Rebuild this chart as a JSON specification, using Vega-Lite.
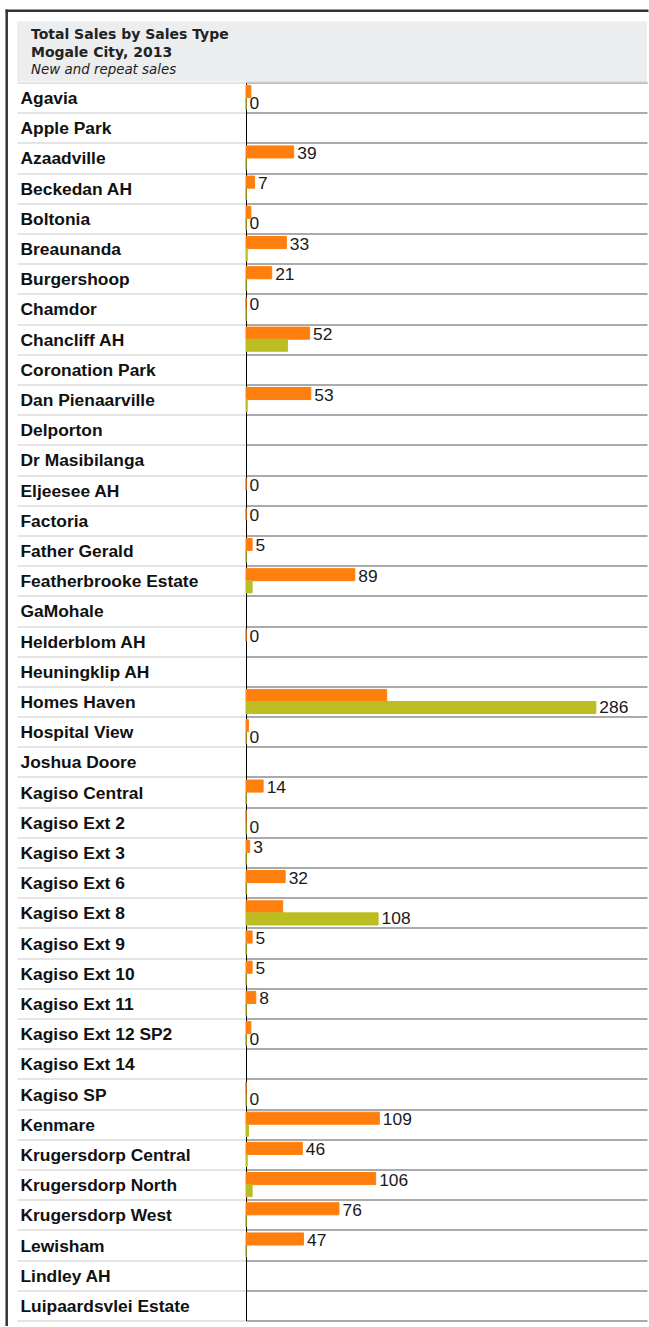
{
  "$schema": "https://vega.github.io/schema/vega-lite/v6.json",
  "padding": {"left": 2, "top": 5.5, "right": 0, "bottom": 0},
  "background": "white",
  "spacing": 1,
  "bounds": "flush",
  "config": {"view": {"stroke": null}},
  "vconcat": [
    {
      "width": 630,
      "height": 60,
      "view": {"fill": "#ECEDEF", "stroke": null},
      "title": {
        "text": ["Total Sales by Sales Type", "Mogale City, 2013"],
        "subtitle": "New and repeat sales",
        "anchor": "start",
        "frame": "group",
        "orient": "top",
        "offset": -70,
        "dx": 14,
        "font": "DejaVu Sans",
        "fontSize": 14,
        "fontWeight": "bold",
        "color": "#222222",
        "lineHeight": 18,
        "subtitleFont": "DejaVu Sans",
        "subtitleFontSize": 13.4,
        "subtitleFontStyle": "italic",
        "subtitleColor": "#222222",
        "subtitleLineHeight": 18,
        "subtitlePadding": 3
      },
      "data": {"values": [{}]},
      "mark": {"type": "point", "opacity": 0},
      "encoding": {
        "x": {"datum": 0, "type": "quantitative", "scale": {"domain": [0, 1], "range": [-12, 631], "nice": false},
              "axis": {"orient": "top", "offset": 11.3, "domain": true, "domainColor": "#333333", "domainWidth": 2.5, "ticks": false, "labels": false, "grid": false, "title": null}},
        "y": {"datum": 0, "type": "quantitative", "scale": {"domain": [0, 1], "range": [-12.5, 1304], "nice": false},
              "axis": {"orient": "left", "offset": 10.8, "domain": true, "domainColor": "#333333", "domainWidth": 2.5, "ticks": false, "labels": false, "grid": false, "title": null}}
      }
    },
    {
      "width": 630,
      "height": 1238,
      "data": {
        "values": [
          {"loc": "Agavia", "type": "New", "value": 4},
          {"loc": "Agavia", "type": "Repeat", "value": 0, "label": 0},
          {"loc": "Azaadville", "type": "New", "value": 39, "label": 39},
          {"loc": "Azaadville", "type": "Repeat", "value": 0},
          {"loc": "Beckedan AH", "type": "New", "value": 7, "label": 7},
          {"loc": "Beckedan AH", "type": "Repeat", "value": 0},
          {"loc": "Boltonia", "type": "New", "value": 4},
          {"loc": "Boltonia", "type": "Repeat", "value": 0, "label": 0},
          {"loc": "Breaunanda", "type": "New", "value": 33, "label": 33},
          {"loc": "Breaunanda", "type": "Repeat", "value": 1},
          {"loc": "Burgershoop", "type": "New", "value": 21, "label": 21},
          {"loc": "Burgershoop", "type": "Repeat", "value": 0},
          {"loc": "Chamdor", "type": "New", "value": 0, "label": 0},
          {"loc": "Chamdor", "type": "Repeat", "value": 0},
          {"loc": "Chancliff AH", "type": "New", "value": 52, "label": 52},
          {"loc": "Chancliff AH", "type": "Repeat", "value": 34},
          {"loc": "Dan Pienaarville", "type": "New", "value": 53, "label": 53},
          {"loc": "Dan Pienaarville", "type": "Repeat", "value": 1},
          {"loc": "Eljeesee AH", "type": "New", "value": 0, "label": 0},
          {"loc": "Factoria", "type": "New", "value": 0, "label": 0},
          {"loc": "Father Gerald", "type": "New", "value": 5, "label": 5},
          {"loc": "Father Gerald", "type": "Repeat", "value": 0},
          {"loc": "Featherbrooke Estate", "type": "New", "value": 89, "label": 89},
          {"loc": "Featherbrooke Estate", "type": "Repeat", "value": 5},
          {"loc": "Helderblom AH", "type": "New", "value": 0, "label": 0},
          {"loc": "Homes Haven", "type": "New", "value": 115},
          {"loc": "Homes Haven", "type": "Repeat", "value": 286, "label": 286},
          {"loc": "Hospital View", "type": "New", "value": 2},
          {"loc": "Hospital View", "type": "Repeat", "value": 0, "label": 0},
          {"loc": "Kagiso Central", "type": "New", "value": 14, "label": 14},
          {"loc": "Kagiso Central", "type": "Repeat", "value": 0},
          {"loc": "Kagiso Ext 2", "type": "New", "value": 0},
          {"loc": "Kagiso Ext 2", "type": "Repeat", "value": 0, "label": 0},
          {"loc": "Kagiso Ext 3", "type": "New", "value": 3, "label": 3},
          {"loc": "Kagiso Ext 3", "type": "Repeat", "value": 0},
          {"loc": "Kagiso Ext 6", "type": "New", "value": 32, "label": 32},
          {"loc": "Kagiso Ext 6", "type": "Repeat", "value": 0},
          {"loc": "Kagiso Ext 8", "type": "New", "value": 30},
          {"loc": "Kagiso Ext 8", "type": "Repeat", "value": 108, "label": 108},
          {"loc": "Kagiso Ext 9", "type": "New", "value": 5, "label": 5},
          {"loc": "Kagiso Ext 9", "type": "Repeat", "value": 0},
          {"loc": "Kagiso Ext 10", "type": "New", "value": 5, "label": 5},
          {"loc": "Kagiso Ext 10", "type": "Repeat", "value": 0},
          {"loc": "Kagiso Ext 11", "type": "New", "value": 8, "label": 8},
          {"loc": "Kagiso Ext 11", "type": "Repeat", "value": 0},
          {"loc": "Kagiso Ext 12 SP2", "type": "New", "value": 4},
          {"loc": "Kagiso Ext 12 SP2", "type": "Repeat", "value": 0, "label": 0},
          {"loc": "Kagiso SP", "type": "New", "value": 0},
          {"loc": "Kagiso SP", "type": "Repeat", "value": 0, "label": 0},
          {"loc": "Kenmare", "type": "New", "value": 109, "label": 109},
          {"loc": "Kenmare", "type": "Repeat", "value": 2},
          {"loc": "Krugersdorp Central", "type": "New", "value": 46, "label": 46},
          {"loc": "Krugersdorp Central", "type": "Repeat", "value": 1},
          {"loc": "Krugersdorp North", "type": "New", "value": 106, "label": 106},
          {"loc": "Krugersdorp North", "type": "Repeat", "value": 5},
          {"loc": "Krugersdorp West", "type": "New", "value": 76, "label": 76},
          {"loc": "Krugersdorp West", "type": "Repeat", "value": 0},
          {"loc": "Lewisham", "type": "New", "value": 47, "label": 47},
          {"loc": "Lewisham", "type": "Repeat", "value": 0}
        ]
      },
      "encoding": {
        "y": {
          "field": "loc",
          "type": "nominal",
          "title": null,
          "scale": {
            "domain": ["Agavia", "Apple Park", "Azaadville", "Beckedan AH", "Boltonia", "Breaunanda", "Burgershoop", "Chamdor", "Chancliff AH", "Coronation Park", "Dan Pienaarville", "Delporton", "Dr Masibilanga", "Eljeesee AH", "Factoria", "Father Gerald", "Featherbrooke Estate", "GaMohale", "Helderblom AH", "Heuningklip AH", "Homes Haven", "Hospital View", "Joshua Doore", "Kagiso Central", "Kagiso Ext 2", "Kagiso Ext 3", "Kagiso Ext 6", "Kagiso Ext 8", "Kagiso Ext 9", "Kagiso Ext 10", "Kagiso Ext 11", "Kagiso Ext 12 SP2", "Kagiso Ext 14", "Kagiso SP", "Kenmare", "Krugersdorp Central", "Krugersdorp North", "Krugersdorp West", "Lewisham", "Lindley AH", "Luipaardsvlei Estate"],
            "paddingInner": 0,
            "paddingOuter": 0
          },
          "axis": {
            "orient": "left",
            "offset": -229,
            "domain": true,
            "domainColor": "#000000",
            "domainWidth": 1,
            "ticks": true,
            "tickSize": 229,
            "tickBand": "extent",
            "tickColor": "#e4e4e4",
            "tickWidth": 2,
            "grid": true,
            "gridColor": "#aaaaaa",
            "gridWidth": 2,
            "labelAlign": "left",
            "labelBaseline": "middle",
            "labelPadding": -3,
            "labelOffset": 1,
            "labelFont": "Liberation Sans",
            "labelFontWeight": "bold",
            "labelFontSize": 17.4,
            "labelColor": "#111111",
            "labelLimit": 0
          }
        }
      },
      "resolve": {"scale": {"yOffset": "independent"}},
      "layer": [
        {
          "mark": {"type": "bar", "strokeWidth": 1},
          "encoding": {
            "x": {"field": "value", "type": "quantitative", "scale": {"domain": [0, 327.8], "range": [229, 630], "nice": false, "zero": true}, "axis": null},
            "yOffset": {"field": "type", "type": "nominal", "scale": {"domain": ["New", "Repeat"], "paddingInner": 0, "paddingOuter": 0.25}},
            "color": {"field": "type", "type": "nominal", "scale": {"domain": ["New", "Repeat"], "range": ["#FF7F0E", "#BCBD22"]}, "legend": null},
            "stroke": {"field": "type", "type": "nominal", "scale": {"domain": ["New", "Repeat"], "range": ["#FF7F0E", "#BCBD22"]}, "legend": null}
          }
        },
        {
          "transform": [{"filter": "datum.label != null"}],
          "mark": {"type": "text", "align": "left", "baseline": "middle", "dx": 3.5, "dy": 1, "font": "Liberation Sans", "fontSize": 17.4, "color": "#1a1a1a"},
          "encoding": {
            "x": {"field": "value", "type": "quantitative"},
            "yOffset": {"field": "type", "type": "nominal", "scale": {"type": "point", "domain": ["New", "Repeat"], "padding": 1.46}},
            "text": {"field": "label", "type": "quantitative"}
          }
        },
        {
          "data": {"values": [{}]},
          "mark": {"type": "rule", "color": "#cccccc", "strokeWidth": 2},
          "encoding": {"x": {"datum": 327.8}}
        }
      ]
    }
  ]
}
